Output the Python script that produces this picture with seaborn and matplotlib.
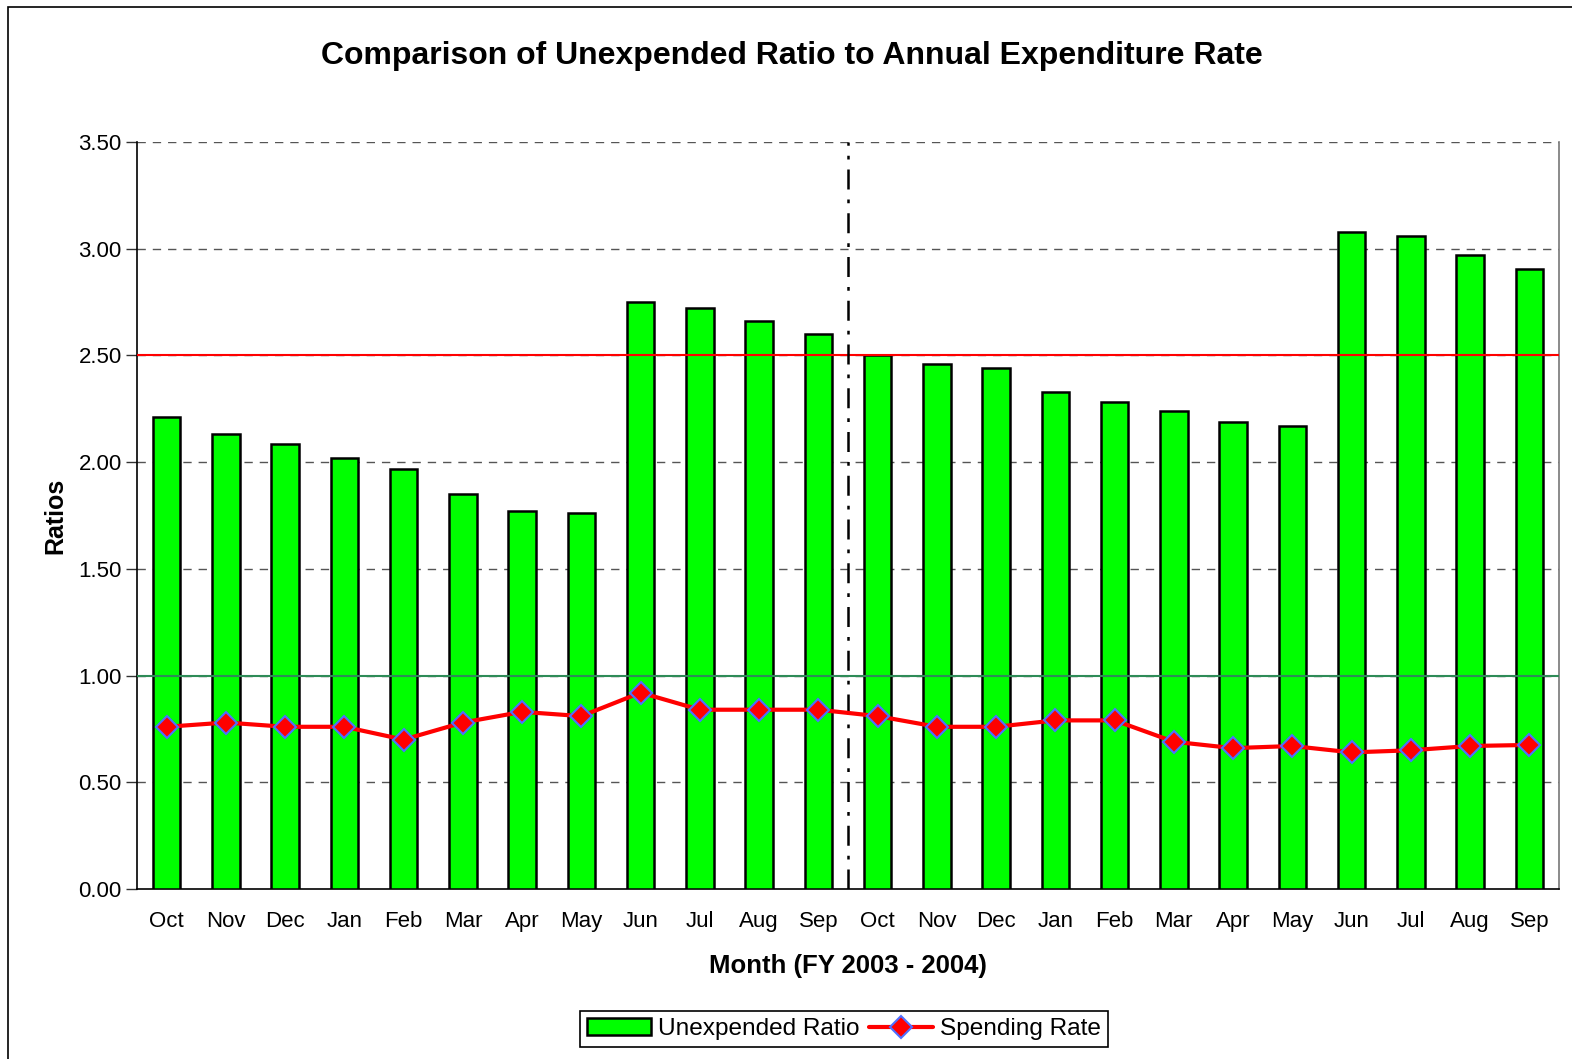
import matplotlib
matplotlib.use("Agg")
import matplotlib.pyplot as plt
import seaborn as sns
import pandas as pd
import numpy as np
from matplotlib.lines import Line2D
from matplotlib.patches import Patch, Rectangle

months = ["Oct", "Nov", "Dec", "Jan", "Feb", "Mar", "Apr", "May", "Jun", "Jul", "Aug", "Sep",
          "Oct", "Nov", "Dec", "Jan", "Feb", "Mar", "Apr", "May", "Jun", "Jul", "Aug", "Sep"]
unexpended_ratio = [2.21, 2.13, 2.085, 2.02, 1.97, 1.85, 1.77, 1.76, 2.75, 2.72, 2.66, 2.60,
                    2.50, 2.46, 2.44, 2.33, 2.28, 2.24, 2.19, 2.17, 3.08, 3.06, 2.97, 2.905]
spending_rate = [0.76, 0.78, 0.76, 0.76, 0.70, 0.78, 0.83, 0.81, 0.92, 0.84, 0.84, 0.84,
                 0.81, 0.76, 0.76, 0.79, 0.79, 0.69, 0.66, 0.67, 0.64, 0.65, 0.67, 0.675]
y_ticks = [0.0, 0.5, 1.0, 1.5, 2.0, 2.5, 3.0, 3.5]
red_ref = 2.5
green_ref = 1.0

sns.set_theme(style="white")
plt.rcParams['font.family'] = ['Liberation Sans', 'DejaVu Sans']
plt.rcParams['text.color'] = 'black'
plt.rcParams['axes.labelcolor'] = 'black'
plt.rcParams['xtick.color'] = 'black'
plt.rcParams['ytick.color'] = 'black'

df = pd.DataFrame({"pos": list(range(len(months))), "month": months,
                   "unexpended": unexpended_ratio, "spending": spending_rate})

fig = plt.figure(figsize=(15.72, 10.59), dpi=100)
ax = fig.add_axes([137/1572, 1 - 889/1059, (1559-137)/1572, (889-142)/1059])

sns.barplot(data=df, x="pos", y="unexpended", order=list(range(len(months))),
            color="#00FF00", edgecolor="black", linewidth=1.8, width=0.46,
            saturation=1, ax=ax, zorder=3)
sns.lineplot(data=df, x="pos", y="spending", color="#FF0000", linewidth=3,
             marker="D", markersize=11, markerfacecolor="#FF0000",
             markeredgecolor="#4F6FFF", markeredgewidth=1.5, ax=ax, zorder=5)

ax.set_xlim(-0.5, len(months) - 0.5)
ax.set_ylim(0, 3.5)
ax.set_yticks(y_ticks)
ax.set_yticklabels([f"{v:.2f}" for v in y_ticks], fontsize=16)
ax.set_xticks(np.arange(-0.5, len(months), 1.0))
ax.set_xticklabels([])
ax.set_xticks(np.arange(len(months)), minor=True)
ax.set_xticklabels(months, minor=True, fontsize=16)
ax.tick_params(axis="x", which="major", direction="inout", length=12, width=1, color="#555555")
ax.tick_params(axis="x", which="minor", length=0, pad=16)
ax.tick_params(axis="y", which="major", direction="out", length=8, width=1, color="#333333", pad=3, left=True)

for v in y_ticks:
    if v in (0.0,):
        continue
    ax.axhline(v, color="#555555", linestyle=(0, (6, 5)), linewidth=1, zorder=1)
ax.axhline(red_ref, color="#FF0000", linewidth=1.5, zorder=4)
ax.axhline(green_ref, color="#2E8B57", linewidth=1.5, zorder=4)
ax.axvline(11.5, color="black", linestyle=(0, (8, 4, 1.5, 4)), linewidth=1.8, zorder=4)

ax.spines["top"].set_visible(False)
ax.spines["right"].set_color("#777777")
ax.spines["left"].set_color("black")
ax.spines["bottom"].set_color("black")
for s in ("left", "bottom", "right"):
    ax.spines[s].set_linewidth(1.2)

ax.set_xlabel("Month (FY 2003 - 2004)", fontsize=18.5, fontweight="bold", labelpad=16)
ax.set_ylabel("Ratios", fontsize=18, fontweight="bold", labelpad=8)
fig.text(792/1572, 1 - 56/1059, "Comparison of Unexpended Ratio to Annual Expenditure Rate",
         ha="center", va="center", fontsize=23, fontweight="bold")

handles = [Patch(facecolor="#00FF00", edgecolor="black", linewidth=1.8),
           Line2D([0], [0], color="#FF0000", linewidth=3, marker="D", markersize=11,
                  markerfacecolor="#FF0000", markeredgecolor="#4F6FFF", markeredgewidth=1.5)]
leg = fig.legend(handles, ["Unexpended Ratio", "Spending Rate"], loc="center",
                 bbox_to_anchor=(844/1572, 1 - 1029/1059), ncol=2, fontsize=17.6,
                 frameon=True, fancybox=False, edgecolor="black", framealpha=1,
                 handlelength=2.6, handletextpad=0.3, columnspacing=0.4, borderpad=0.3)
leg.get_frame().set_linewidth(1.2)

fig.patches.append(Rectangle((8/1572, -0.05), 1.2, 1 - 7/1059 + 0.05, transform=fig.transFigure,
                             fill=False, edgecolor="black", linewidth=1.2))

fig.savefig("out.png", dpi=100)
